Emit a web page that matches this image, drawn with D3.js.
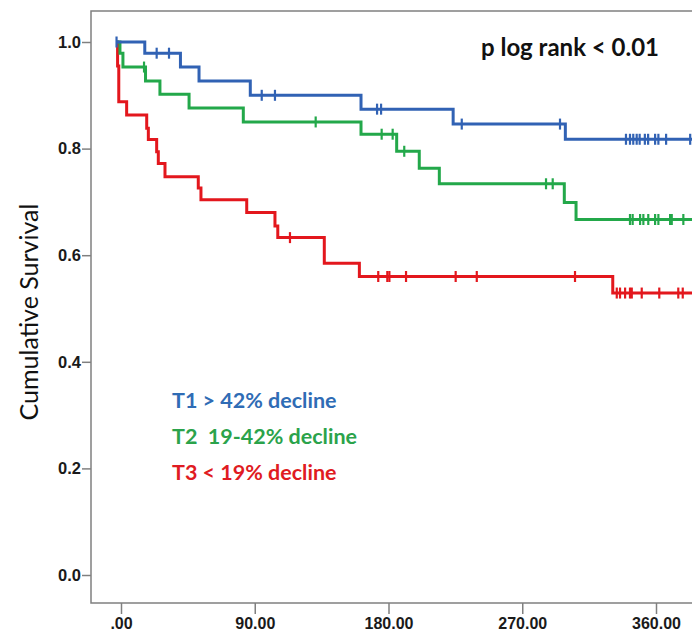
<!DOCTYPE html>
<html>
<head>
<meta charset="utf-8">
<script src="https://cdn.jsdelivr.net/npm/d3@7"></script>
<style>
  body { margin: 0; background: #fff; }
  svg { display: block; }
</style>
</head>
<body>
<svg id="chart" width="692" height="634"></svg>
<script>
// Kaplan-Meier steps (time in days, survival after the step)
const blueTimes = [-3, 16, 40, 52.5, 87, 161.5, 223.5, 299, 390];
const blueSurv  = [1.0, 0.979, 0.953, 0.927, 0.900, 0.874, 0.846, 0.8175, 0.8175];
const blueCensor = [-3, 24, 32.3, 94.7, 103.6, 172.3, 175, 229.3, 295.4,
  339.8, 342.5, 344.7, 347, 349, 352.5, 354.7, 359.4, 361.6, 366.8, 383];

const greenTimes = [-3, -0.7, 1.3, 16.5, 26.2, 45.8, 82.3, 161.5, 185.5, 200.7, 214.2, 298.3, 306.2, 390];
const greenSurv  = [1.0, 0.979, 0.953, 0.927, 0.902, 0.876, 0.850, 0.827, 0.795, 0.763, 0.734, 0.699, 0.667, 0.667];
const greenCensor = [15.5, 131, 175.4, 182.8, 190.6, 286, 290.5,
  342.5, 344.3, 349.3, 351.5, 354.8, 359.4, 361.6, 369.5, 370.6, 378.4];

const redTimes = [-3, -2.3, -1.5, 3.8, 17.3, 18.4, 24, 25.1, 29.6, 52, 53.8, 84.6, 103.6, 105.5, 136.8, 160.4, 330.9, 390];
const redSurv  = [1.0, 0.955, 0.888, 0.863, 0.838, 0.817, 0.794, 0.772, 0.747, 0.726, 0.704, 0.680, 0.655, 0.633, 0.585, 0.560, 0.529, 0.529];
const redCensor = [113.7, 173.1, 179.2, 180.6, 191.8, 225.2, 239.4, 305.5,
  333.6, 335.8, 339.2, 342.5, 343.7, 350.4, 362.2, 375, 378];

const xTicks = [0, 90, 180, 270, 360];
const yTicks = [0, 0.2, 0.4, 0.6, 0.8, 1.0];

const legendLabels = ["T1 > 42% decline", "T2  19-42% decline", "T3 < 19% decline"];
const pValueText = "p log rank < 0.01";
const yTitle = "Cumulative Survival";

const series = [
  { times: blueTimes, surv: blueSurv, censor: blueCensor, color: "#3162b4", text: "#2f6cb5" },
  { times: greenTimes, surv: greenSurv, censor: greenCensor, color: "#23a84a", text: "#2ba34b" },
  { times: redTimes, surv: redSurv, censor: redCensor, color: "#e3171d", text: "#e01b22" }
];

const svg = d3.select("#chart");
const frame = { left: 91, top: 11, bottom: 603, right: 760 };

const x = d3.scaleLinear().domain([0, 360]).range([121, 656]);
const y = d3.scaleLinear().domain([0, 1]).range([575, 42]);

// frame (right side runs off the canvas)
const frameColor = "#808080";
svg.append("path")
  .attr("d", `M${frame.right},${frame.top}H${frame.left}V${frame.bottom}H${frame.right}`)
  .attr("fill", "none")
  .attr("stroke", frameColor)
  .attr("stroke-width", 1.5);

// y axis
const yAxis = d3.axisLeft(y)
  .tickValues(yTicks)
  .tickFormat(d3.format(".1f"))
  .tickSize(9)
  .tickPadding(1);
const yAxisG = svg.append("g")
  .attr("transform", `translate(${frame.left},0)`)
  .call(yAxis);
yAxisG.select(".domain").remove();
yAxisG.selectAll(".tick line").attr("stroke", frameColor).attr("stroke-width", 1.5);
yAxisG.selectAll(".tick text")
  .attr("fill", "#1a1a1a")
  .style("font-family", "'Liberation Sans', Arial, sans-serif")
  .style("font-weight", "bold")
  .style("font-size", "16.5px");

// x axis
const xAxis = d3.axisBottom(x)
  .tickValues(xTicks)
  .tickFormat(d => d === 0 ? ".00" : d3.format(".2f")(d))
  .tickSize(11)
  .tickPadding(4);
const xAxisG = svg.append("g")
  .attr("transform", `translate(0,${frame.bottom})`)
  .call(xAxis);
xAxisG.select(".domain").remove();
xAxisG.selectAll(".tick line").attr("stroke", frameColor).attr("stroke-width", 1.5);
xAxisG.selectAll(".tick text")
  .attr("fill", "#1a1a1a")
  .style("font-family", "'Liberation Sans', Arial, sans-serif")
  .style("font-weight", "bold")
  .style("font-size", "16px");

// y title
svg.append("text")
  .attr("transform", `translate(38,312) rotate(-90)`)
  .attr("text-anchor", "middle")
  .style("font-family", "Lato, 'Open Sans', sans-serif")
  .style("font-size", "25px")
  .attr("fill", "#111")
  .text(yTitle);

// curves
const stepLine = d3.line()
  .x(d => x(d[0]))
  .y(d => y(d[1]))
  .curve(d3.curveStepAfter);

function survivalAt(s, t) {
  let v = s.surv[0];
  s.times.forEach((tt, i) => { if (tt <= t) v = s.surv[i]; });
  return v;
}

series.slice().reverse().forEach(s => {
  const pts = s.times.map((t, i) => [t, s.surv[i]]);
  svg.append("path")
    .datum(pts)
    .attr("d", stepLine)
    .attr("fill", "none")
    .attr("stroke", s.color)
    .attr("stroke-width", 3);

  svg.append("g").selectAll("line")
    .data(s.censor)
    .join("line")
    .attr("x1", d => x(d))
    .attr("x2", d => x(d))
    .attr("y1", d => y(survivalAt(s, d)) - 5.5)
    .attr("y2", d => y(survivalAt(s, d)) + 5.5)
    .attr("stroke", s.color)
    .attr("stroke-width", 2.2);
});

// p value
svg.append("text")
  .attr("x", 481)
  .attr("y", 56)
  .style("font-family", "Lato, 'Open Sans', sans-serif")
  .style("font-weight", "bold")
  .style("font-size", "24px")
  .attr("fill", "#111")
  .text(pValueText);

// legend
svg.append("g").selectAll("text")
  .data(legendLabels)
  .join("text")
  .attr("x", 172)
  .attr("y", (d, i) => 408 + i * 36)
  .attr("xml:space", "preserve")
  .style("white-space", "pre")
  .style("font-family", "Lato, 'Open Sans', sans-serif")
  .style("font-weight", "bold")
  .style("font-size", "21.5px")
  .attr("fill", (d, i) => series[i].text)
  .text(d => d);
</script>
</body>
</html>
